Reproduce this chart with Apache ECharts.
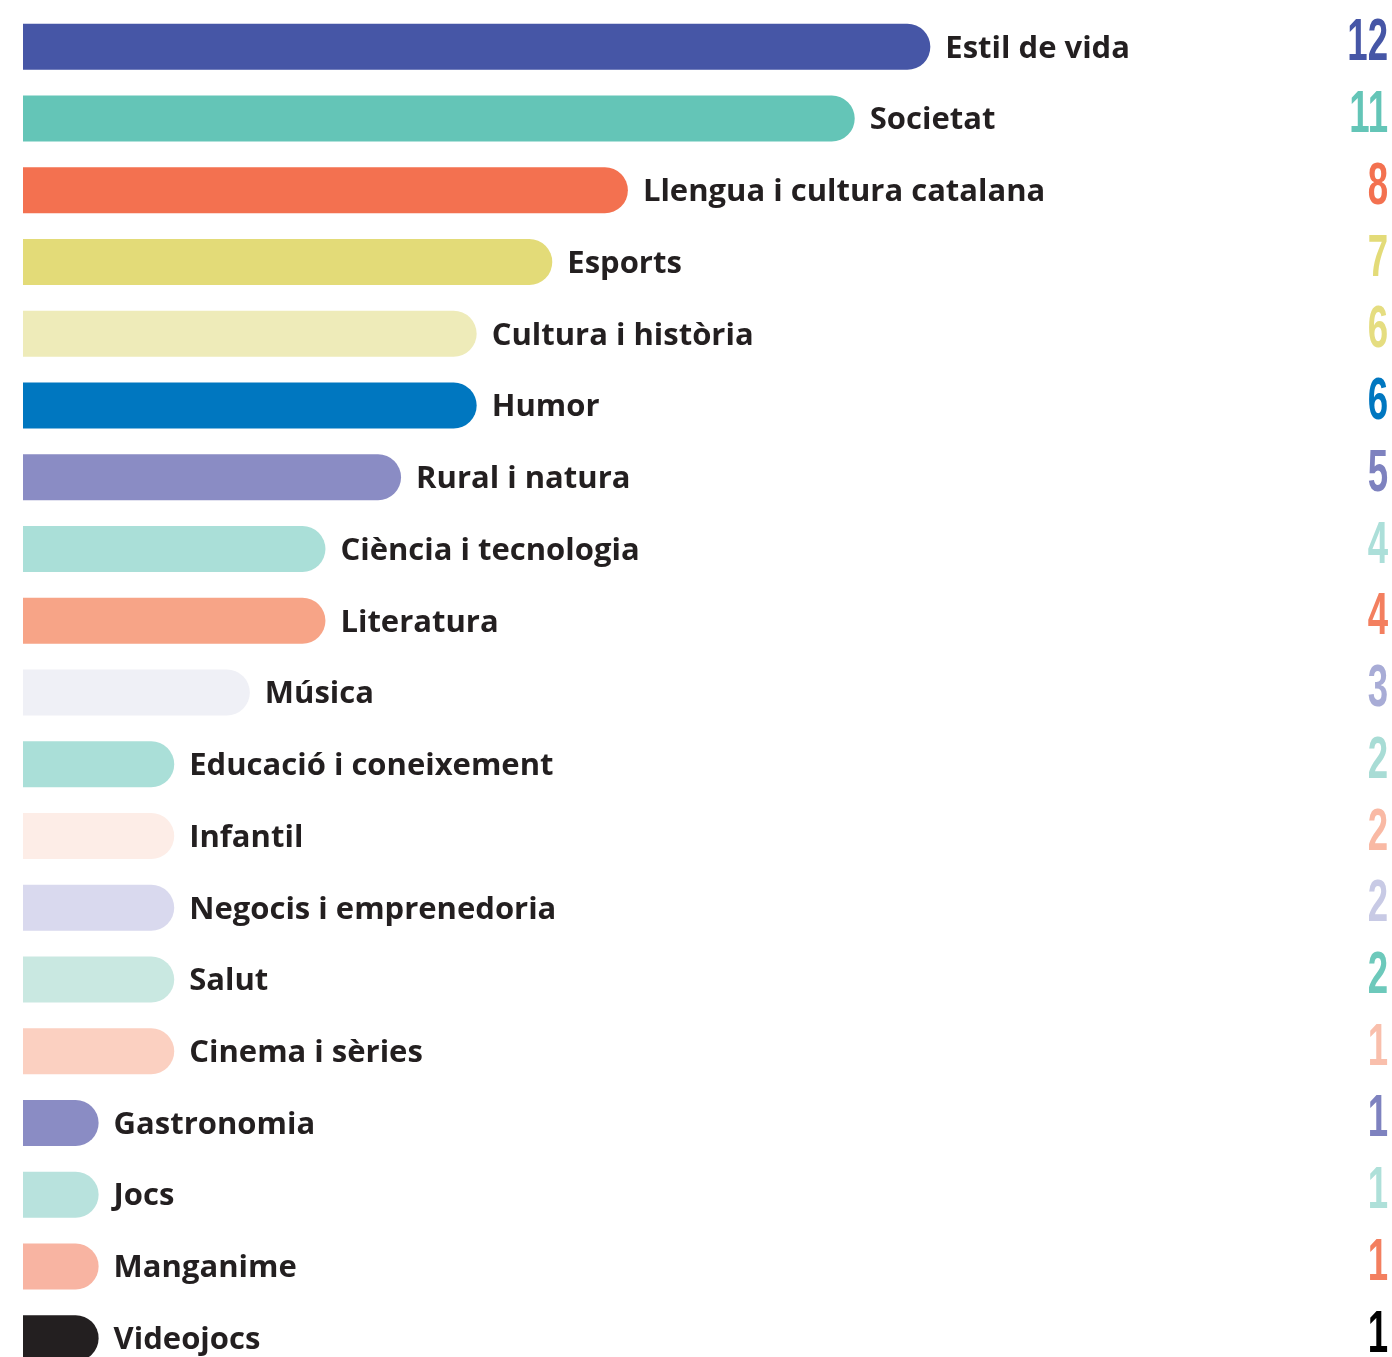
<!DOCTYPE html>
<html>
<head>
<meta charset="utf-8">
<script src="https://cdn.jsdelivr.net/npm/echarts@6/dist/echarts.min.js"></script>
<style>
html,body{margin:0;padding:0;background:#fff;}
#chart{width:1392px;height:1357px;}
</style>
</head>
<body>
<div id="chart"></div>
<script>
const categories = ['Estil de vida','Societat','Llengua i cultura catalana','Esports','Cultura i història','Humor','Rural i natura','Ciència i tecnologia','Literatura','Música','Educació i coneixement','Infantil','Negocis i emprenedoria','Salut','Cinema i sèries','Gastronomia','Jocs','Manganime','Videojocs'];
// printed counts on the right
const values = [12,11,8,7,6,6,5,4,4,3,2,2,2,2,1,1,1,1,1];
// bar lengths as drawn in the picture (Cinema i sèries bar is drawn at 2)
const barLengths = [12,11,8,7,6,6,5,4,4,3,2,2,2,2,2,1,1,1,1];
const barColors = ['#4656a6','#64c5b7','#f37150','#e3db78','#eeebb9','#0077c0','#8a8cc4','#aadfd8','#f7a487','#eff0f6','#aadfd8','#fdede7','#d9d9ee','#c9e8e1','#fbd0c1','#8a8cc4','#b8e2dd','#f8b4a2','#231f20'];
const numColors = ['#4656a6','#64c5b7','#f37150','#e3db78','#e5dd80','#0077c0','#7e82bf','#acdfd9','#f37f5f','#a8acd6','#a8dcd5','#f9b9a4','#c8cae5','#6dc9bb','#f9bfac','#7e82bf','#aee0d9','#f37f5f','#000000'];

const chart = echarts.init(document.getElementById('chart'), null, {renderer:'canvas'});
const option = {
  animation: false,
  backgroundColor: '#ffffff',
  grid: {left: 23, top: 11, width: 1361, height: 1363, containLabel: false, outerBoundsMode: 'none'},
  xAxis: {type: 'value', min: 0, max: 18, show: false},
  yAxis: {type: 'category', data: categories, inverse: true, show: false},
  series: [
    {
      type: 'bar',
      data: barLengths.map((v, i) => ({value: v, itemStyle: {color: barColors[i]}})),
      barWidth: 46,
      itemStyle: {borderRadius: [0, 23, 23, 0]},
      label: {
        show: true,
        position: 'right',
        distance: 15,
        offset: [0, 2],
        formatter: p => categories[p.dataIndex],
        color: '#231f20',
        fontFamily: 'Open Sans',
        fontWeight: 'bold',
        fontSize: 31
      }
    },
    {
      type: 'custom',
      data: values.map((v, i) => [v, i]),
      encode: {x: 0, y: 1},
      renderItem: function (params, api) {
        const p = api.coord([0, api.value(1)]);
        return {
          type: 'text',
          x: 1388,
          y: p[1] - 3,
          scaleX: 0.61,
          style: {
            text: String(api.value(0)),
            fill: numColors[params.dataIndex],
            font: 'bold 60px "Liberation Sans"',
            align: 'right',
            verticalAlign: 'middle'
          }
        };
      }
    }
  ]
};
chart.setOption(option);
</script>
</body>
</html>
